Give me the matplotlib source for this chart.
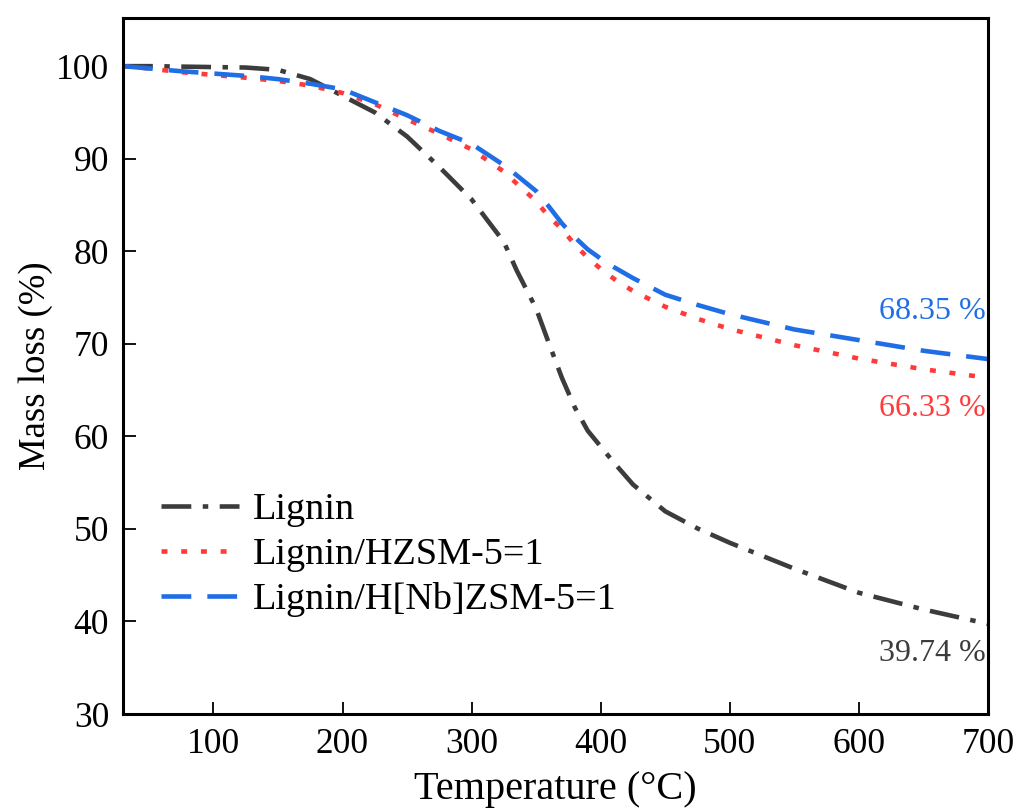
import matplotlib
matplotlib.use("Agg")
import matplotlib.pyplot as plt

plt.rcParams['font.family'] = ['Liberation Serif', 'DejaVu Serif']

temperature = [30, 50, 75, 100, 125, 150, 175, 200, 225, 250, 275, 300, 325,
               335, 350, 360, 370, 380, 390, 400, 410, 425, 450, 475, 500, 550,
               600, 650, 700]

lignin = [100.0, 100.0, 99.95, 99.9, 99.85, 99.6, 98.6, 96.8, 95.0, 92.4, 89.1,
          85.6, 81.0, 77.9, 73.8, 70.0, 66.3, 63.1, 60.6, 58.9, 57.2, 54.8,
          51.9, 50.05, 48.5, 45.7, 43.1, 41.3, 39.74]

lignin_hzsm = [100.0, 99.75, 99.35, 99.05, 98.75, 98.4, 97.9, 97.1, 95.9, 94.25,
               92.7, 91.0, 88.6, 87.3, 85.4, 83.7, 82.4, 80.7, 79.3, 78.1, 77.05,
               75.7, 74.0, 72.7, 71.6, 69.85, 68.4, 67.25, 66.33]

lignin_hnbzsm = [100.0, 99.75, 99.45, 99.2, 98.95, 98.6, 98.1, 97.5, 96.1, 94.7,
                 93.0, 91.6, 89.3, 88.2, 86.5, 84.8, 83.0, 81.5, 80.2, 79.2, 78.3,
                 77.1, 75.3, 74.2, 73.2, 71.55, 70.4, 69.25, 68.35]

series_labels = ['Lignin', 'Lignin/HZSM-5=1', 'Lignin/H[Nb]ZSM-5=1']
final_labels = ['39.74 %', '66.33 %', '68.35 %']

c_black = '#3c3c3c'
c_red = '#ff3a3a'
c_blue = '#1f6ee6'

fig = plt.figure(figsize=(10.17, 8.08), dpi=100)
ax = fig.add_axes([0.121, 0.1163, 0.8505, 0.8614])

ax.plot(temperature, lignin, color=c_black, lw=3.3,
        dashes=(6.5, 2.5, 1.2, 2.5), label=series_labels[0])
ax.plot(temperature, lignin_hzsm, color=c_red, lw=3.3,
        dashes=(1.3, 3.0), label=series_labels[1])
ax.plot(temperature, lignin_hnbzsm, color=c_blue, lw=3.3,
        dashes=(6.5, 3.5), label=series_labels[2])

ax.set_xlim(30, 700)
ax.set_ylim(30, 105.2)
ax.set_xticks([100, 200, 300, 400, 500, 600, 700])
ax.set_yticks([30, 40, 50, 60, 70, 80, 90, 100])

ax.tick_params(direction='in', length=9, width=1.3, labelsize=25.5, pad=10)
for s in ax.spines.values():
    s.set_linewidth(2.2)

ax.set_xlabel('Temperature (°C)', fontsize=29, labelpad=7)
ax.set_ylabel('Mass loss (%)', fontsize=26.5, labelpad=2)

ax.text(698, 36.5, final_labels[0], color=c_black, fontsize=23,
        ha='right', va='center')
ax.text(698, 63.0, final_labels[1], color=c_red, fontsize=23,
        ha='right', va='center')
ax.text(698, 73.5, final_labels[2], color=c_blue, fontsize=23,
        ha='right', va='center')

leg = ax.legend(loc='lower left', bbox_to_anchor=(0.0085, 0.095), fontsize=27.5,
                frameon=True, handlelength=2.05, handletextpad=0.35,
                labelspacing=0.27, borderpad=0.3)
leg.get_frame().set_facecolor('white')
leg.get_frame().set_edgecolor('none')
leg.get_frame().set_alpha(1.0)

fig.savefig('out.png', dpi=100)
